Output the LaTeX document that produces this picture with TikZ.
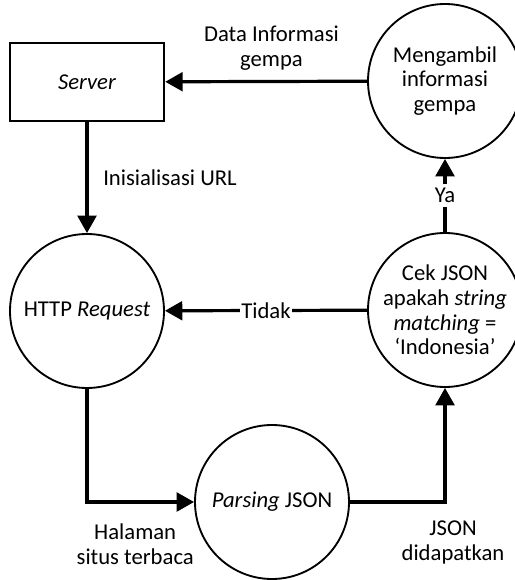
\documentclass[tikz,border=0pt]{standalone}
\usepackage{fontspec}
\setmainfont{Carlito}
\usetikzlibrary{arrows.meta,positioning}
\tikzset{proc/.style={draw,circle,line width=1.4pt,minimum size=115.5pt,
  inner sep=0pt,align=center},
  store/.style={draw,rectangle,line width=1.4pt,minimum width=116pt,
  minimum height=58.5pt,align=center},
  flow/.style={-{Triangle[length=13pt,width=14pt]},line width=2.4pt},
  lbl/.style={align=center,inner sep=1pt}}

\begin{document}
\begin{tikzpicture}[x=0.75pt,y=-0.75pt,font=\fontsize{17}{18.5}\selectfont]
\useasboundingbox (0,0) rectangle (514,580);
\node[store] (server) at (87,82) {\textit{Server}};
\node[proc] (ambil) at (445,81) {Mengambil\\informasi\\gempa};
\node[proc] (http) at (87,311) {HTTP \textit{Request}};
\node[proc] (cek) at (445,310) {Cek JSON\\apakah \textit{string}\\\textit{matching} =\\`Indonesia'};
\node[proc] (parse) at (272,502) {\textit{Parsing} JSON};
\draw[flow] (ambil) -- (server) node[lbl,midway,above=6pt,xshift=4pt] {Data Informasi\\gempa};
\draw[flow] (server) -- (http) node[lbl,midway,right=10pt] {Inisialisasi URL};
\draw[flow] (cek) -- (ambil) node[lbl,midway,fill=white,inner sep=3pt] {Ya};
\draw[flow] (cek) -- (http) node[lbl,midway,fill=white] {Tidak};
\draw[flow] (http) |- (parse) node[lbl,pos=0.75,below=14pt,xshift=-4pt] {Halaman\\situs terbaca};
\draw[flow] (parse) -| (cek) node[lbl,pos=0.5,below=12pt,xshift=6pt] {JSON\\didapatkan};
\end{tikzpicture}
\end{document}
